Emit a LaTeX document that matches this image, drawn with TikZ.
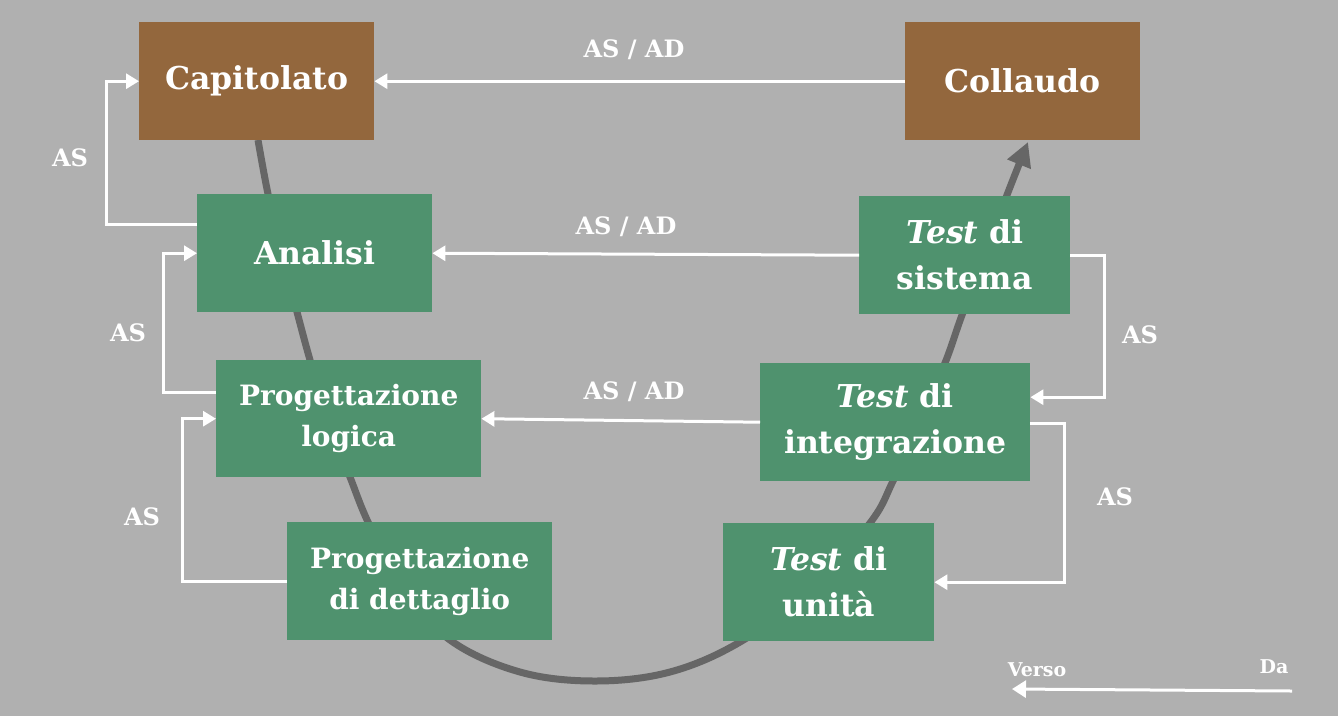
\documentclass[tikz,border=0pt]{standalone}
\usepackage{fontspec}
\setmainfont{DejaVu Serif}
\usetikzlibrary{arrows.meta}
\definecolor{bg}{HTML}{B0B0B0}
\definecolor{brownbox}{HTML}{93673D}
\definecolor{greenbox}{HTML}{4F926E}
\definecolor{curvegray}{HTML}{666666}
\begin{document}
\begin{tikzpicture}[x=1pt,y=-1pt,
  box/.style={fill=#1, text=white, font=\bfseries\fontsize{31.5}{46}\selectfont,
    align=center, inner sep=0pt, anchor=north west, minimum height=118pt},
  smallbox/.style={box=#1, font=\bfseries\fontsize{28}{41}\selectfont},
  wa/.style={draw=white, line width=3pt, -{Triangle[length=13pt,width=15pt]}},
  lbl/.style={text=white, font=\bfseries\fontsize{24}{28}\selectfont, inner sep=0pt},
  legendlbl/.style={text=white, font=\bfseries\fontsize{19}{22}\selectfont, inner sep=0pt},
  vcurve/.style={draw=curvegray, line width=7pt, -{Triangle[length=24pt,width=24pt]}}]
\fill[bg] (0,0) rectangle (1338,716);
\useasboundingbox (0,0) rectangle (1338,716);
% U curve
\draw[vcurve] plot[smooth, tension=0.6] coordinates {(258,140) (268,194) (282,255) (297,312) (310,360) (328,420) (350,477) (368,522) (400,585) (450,640) (520,672) (595,681) (670,672) (740,642) (810,590) (870,523) (893,481) (920,420) (945,363) (962,315) (985,255) (1007,195) (1028,142)};
% boxes
\node[box=brownbox, minimum width=235pt] (cap) at (139,22) {Capitolato};
\node[box=brownbox, minimum width=235pt] (coll) at (905,22) {Collaudo};
\node[box=greenbox, minimum width=235pt] (an) at (197,194) {Analisi};
\node[box=greenbox, minimum width=211pt] (sis) at (859,196) {\textit{Test} di\\sistema};
\node[smallbox=greenbox, minimum width=265pt, minimum height=117pt] (log) at (216,360) {Progettazione\\logica};
\node[box=greenbox, minimum width=270pt] (intg) at (760,363) {\textit{Test} di\\integrazione};
\node[smallbox=greenbox, minimum width=265pt] (det) at (287,522) {Progettazione\\di dettaglio};
\node[box=greenbox, minimum width=211pt] (uni) at (723,523) {\textit{Test} di\\unità};
% feedback arrows left
\draw[wa] ([yshift=29pt]an.west) -- ++(-91,0) |- (cap.west);
\draw[wa] ([yshift=26pt]log.west) -- ++(-53,0) |- (an.west);
\draw[wa] (det.west) -- ++(-105,0) |- (log.west);
% feedback arrows right
\draw[wa] (sis.east) -- ++(34,0) |- ([yshift=25pt]intg.east);
\draw[wa] ([yshift=-1pt]intg.east) -- ++(34,0) |- (uni.east);
% horizontal arrows
\draw[wa] (coll.west) -- (cap.east);
\draw[wa] (sis.west) -- (an.east);
\draw[wa] (intg.west) -- (log.east);
% labels
\node[lbl] (l1) at (634,50) {AS / AD};
\node[lbl] (l2) at (626,227) {AS / AD};
\node[lbl] (l3) at (634,392) {AS / AD};
\node[lbl] (l4) at (70,158) {AS};
\node[lbl] (l5) at (128,333) {AS};
\node[lbl] (l6) at (142,517) {AS};
\node[lbl] (l7) at (1140,335) {AS};
\node[lbl] (l8) at (1115,497) {AS};
% legend
\coordinate (da) at (1292,691);
\coordinate (verso) at (1012,689);
\draw[draw=white, line width=3pt, -{Triangle[length=14pt,width=17pt]}] (da) -- (verso);
\node[legendlbl] (vt) at (1037,670) {Verso};
\node[legendlbl] (dt) at (1274,667) {Da};
\end{tikzpicture}
\end{document}
